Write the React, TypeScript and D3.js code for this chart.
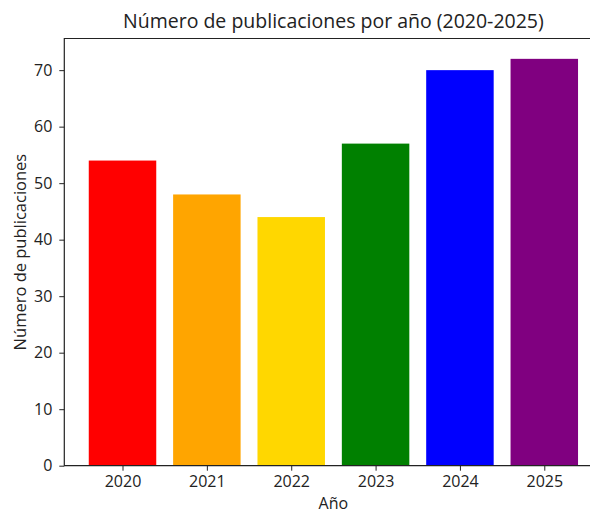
import React, { useEffect, useRef } from 'react';
import * as d3 from 'd3';

const years: string[] = ['2020', '2021', '2022', '2023', '2024', '2025'];
const publications: number[] = [54, 48, 44, 57, 70, 72];
const barColors: string[] = ['#ff0000', '#ffa500', '#ffd700', '#008000', '#0000ff', '#800080'];
const yTicks: number[] = [0, 10, 20, 30, 40, 50, 60, 70];

export default function App() {
  const svgRef = useRef<SVGSVGElement>(null);

  useEffect(() => {
    document.body.style.margin = '0';
    if (!svgRef.current) return;

    const width = 590;
    const height = 514;
    // right edge of the axes lies past the visible picture (cropped)
    const margin = { top: 38.5, right: -12.5, bottom: 48.3, left: 64.3 };
    const font = '"Open Sans", sans-serif';

    const svg = d3.select(svgRef.current);
    svg.selectAll('*').remove();

    const x = d3.scaleLinear()
      .domain([-0.69, 5.69])
      .range([margin.left, width - margin.right]);
    const bw = (x(1) - x(0)) * 0.8;

    const yMax = d3.max(publications)! * 1.05;
    const y = d3.scaleLinear()
      .domain([0, yMax])
      .range([height - margin.bottom, margin.top]);

    // Bars
    svg.append('g')
      .selectAll('rect')
      .data(publications)
      .enter()
      .append('rect')
      .attr('x', (_, i) => x(i) - bw / 2)
      .attr('width', bw)
      .attr('y', d => y(d))
      .attr('height', d => y(0) - y(d))
      .attr('fill', (_, i) => barColors[i]);

    // Y axis
    const yAxis = svg.append('g')
      .attr('transform', `translate(${margin.left},0)`)
      .call(d3.axisLeft(y).tickValues(yTicks).tickSize(5).tickPadding(7).tickFormat(d => `${d}`));
    yAxis.selectAll('text').attr('fill', '#222').attr('font-size', '16px').attr('font-family', font);
    yAxis.selectAll('line').attr('stroke', '#222');
    yAxis.select('.domain').remove();

    // X axis
    const xAxis = svg.append('g')
      .attr('transform', `translate(0,${height - margin.bottom})`)
      .call(d3.axisBottom(x).tickValues(years.map((_, i) => i)).tickSize(5).tickPadding(5).tickFormat((_, i) => years[i]));
    xAxis.selectAll('text').attr('fill', '#222').attr('font-size', '16px').attr('font-family', font);
    xAxis.selectAll('line').attr('stroke', '#222');
    xAxis.select('.domain').remove();

    // Spines
    const x0 = margin.left, x1 = width - margin.right;
    const y0 = margin.top, y1 = height - margin.bottom;
    svg.append('path')
      .attr('d', `M${x0},${y1}V${y0}H${x1}V${y1}Z`)
      .attr('fill', 'none')
      .attr('stroke', '#222')
      .attr('stroke-width', 1.2);

    // Title
    svg.append('text')
      .attr('x', (x0 + x1) / 2)
      .attr('y', 28)
      .attr('text-anchor', 'middle')
      .attr('font-size', '19.5px')
      .attr('font-family', font)
      .attr('fill', '#222')
      .text('Número de publicaciones por año (2020-2025)');

    // Axis labels
    svg.append('text')
      .attr('x', (x0 + x1) / 2)
      .attr('y', 509)
      .attr('text-anchor', 'middle')
      .attr('font-size', '16px')
      .attr('font-family', font)
      .attr('fill', '#222')
      .text('Año');

    svg.append('text')
      .attr('transform', `translate(26,${(y0 + y1) / 2}) rotate(-90)`)
      .attr('text-anchor', 'middle')
      .attr('font-size', '16.5px')
      .attr('font-family', font)
      .attr('fill', '#222')
      .text('Número de publicaciones');
  }, []);

  return <svg ref={svgRef} width={590} height={514} style={{ display: 'block', background: '#fff' }} />;
}
